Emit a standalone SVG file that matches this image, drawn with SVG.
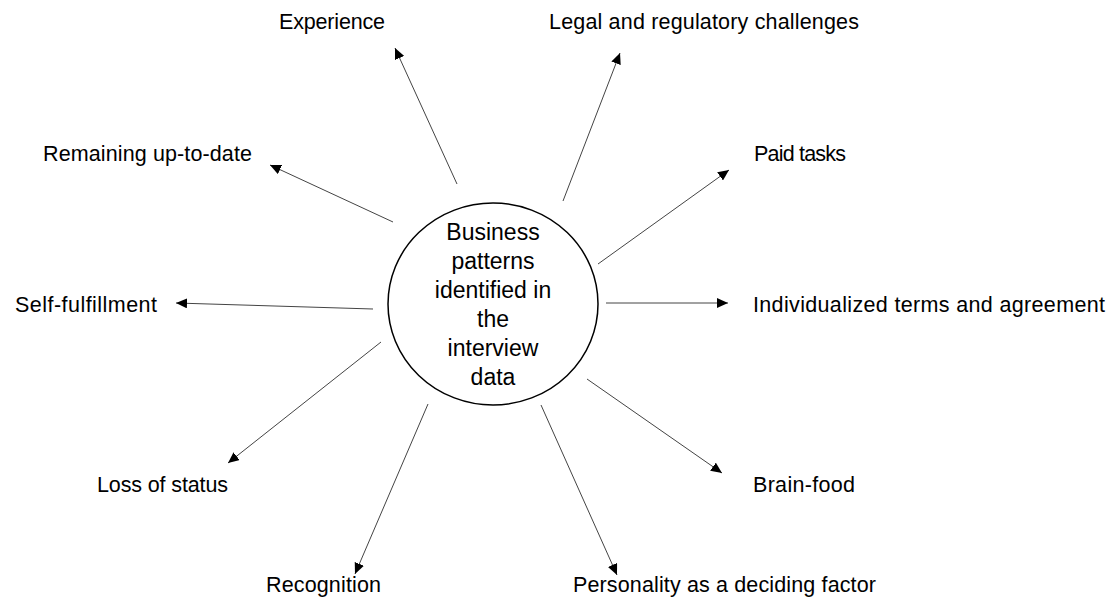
<svg xmlns="http://www.w3.org/2000/svg" width="1112" height="601" viewBox="0 0 1112 601">
<style>
.lbl{font-family:"Liberation Sans",Arial,sans-serif;font-size:21.5px;fill:#000}
.ctr{font-family:"Liberation Sans",Arial,sans-serif;font-size:23px;fill:#000;text-anchor:middle}
.con{stroke:#444;stroke-width:1;fill:none;marker-end:url(#ah)}
</style>
<defs>
<marker id="ah" markerUnits="userSpaceOnUse" markerWidth="12" markerHeight="10" refX="11" refY="5" orient="auto">
<path d="M0,0 L11,5 L0,10 Z" fill="#000"/>
</marker>
</defs>
<rect width="1112" height="601" fill="#fff"/>
<g id="connectors">
<line class="con" x1="457" y1="184" x2="395" y2="48"/>
<line class="con" x1="563" y1="201" x2="620" y2="53"/>
<line class="con" x1="393" y1="222" x2="270" y2="165"/>
<line class="con" x1="598" y1="264" x2="729" y2="170"/>
<line class="con" x1="373" y1="309" x2="176" y2="303"/>
<line class="con" x1="606" y1="303" x2="728" y2="303"/>
<line class="con" x1="381" y1="342" x2="228" y2="463"/>
<line class="con" x1="587" y1="379" x2="722" y2="473"/>
<line class="con" x1="428" y1="404" x2="355" y2="574"/>
<line class="con" x1="541" y1="405" x2="617" y2="575"/>
</g>
<g id="center">
<ellipse cx="493" cy="304" rx="105" ry="101" fill="#fff" stroke="#000" stroke-width="1.5"/>
<text class="ctr" x="493" y="240">Business</text>
<text class="ctr" x="493" y="269">patterns</text>
<text class="ctr" x="493" y="298">identified in</text>
<text class="ctr" x="493" y="327">the</text>
<text class="ctr" x="493" y="356">interview</text>
<text class="ctr" x="493" y="385">data</text>
</g>
<g id="n-experience"><text class="lbl" x="279" y="29" textLength="106">Experience</text></g>
<g id="n-legal"><text class="lbl" x="549" y="29" textLength="310">Legal and regulatory challenges</text></g>
<g id="n-remaining"><text class="lbl" x="43" y="161" textLength="209">Remaining up-to-date</text></g>
<g id="n-paid"><text class="lbl" x="754" y="161" textLength="92">Paid tasks</text></g>
<g id="n-self"><text class="lbl" x="15" y="312" textLength="142">Self-fulfillment</text></g>
<g id="n-individualized"><text class="lbl" x="753" y="312" textLength="352">Individualized terms and agreement</text></g>
<g id="n-loss"><text class="lbl" x="97" y="492" textLength="131">Loss of status</text></g>
<g id="n-brain"><text class="lbl" x="753" y="492" textLength="102">Brain-food</text></g>
<g id="n-recognition"><text class="lbl" x="266" y="592" textLength="115">Recognition</text></g>
<g id="n-personality"><text class="lbl" x="573" y="592" textLength="303">Personality as a deciding factor</text></g>
</svg>
